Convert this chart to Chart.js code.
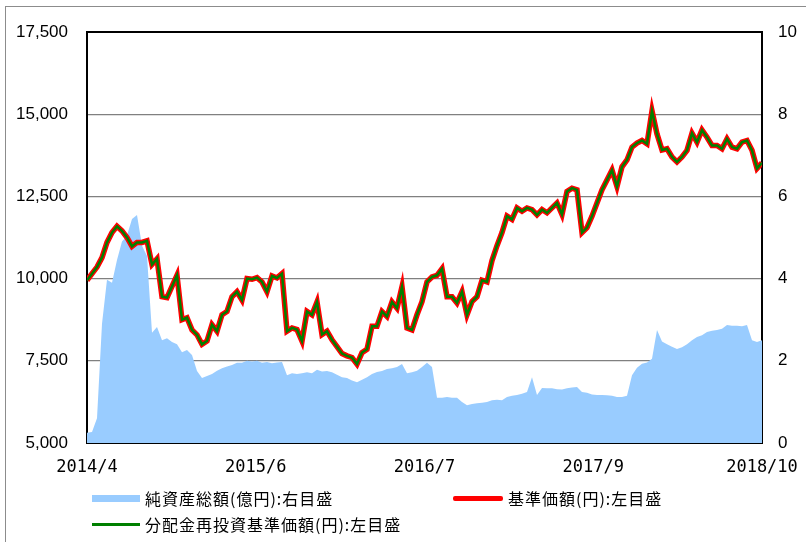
<!DOCTYPE html>
<html>
<head>
<meta charset="utf-8">
<script src="https://cdn.jsdelivr.net/npm/chart.js@4"></script>
<style>
  body { margin: 0; background: #fff; }
  #wrap { position: relative; width: 806px; height: 542px; overflow: hidden; }
  #frame { position: absolute; left: 5px; top: 6px; width: 900px; height: 900px;
           border-left: 1px solid #8c8c8c; border-top: 1px solid #8c8c8c; }
  canvas { position: absolute; left: 0; top: 0; }
  .lg { position: absolute; font: 16px "Noto Sans CJK JP", sans-serif; color: #000;
        line-height: 20px; white-space: nowrap; letter-spacing: 1px; }
  .sw { position: absolute; }
</style>
</head>
<body>
<div id="wrap">
  <div id="frame"></div>
  <canvas id="chart" width="806" height="542"></canvas>
  <div class="sw" style="left:92px;top:495px;width:48px;height:7px;background:#99ccff"></div>
  <div class="lg" id="lg0" style="left:145px;top:488px"></div>
  <div class="sw" style="left:453px;top:496px;width:50px;height:5px;background:#ff0000;border-radius:2px"></div>
  <div class="lg" id="lg1" style="left:508px;top:488px"></div>
  <div class="sw" style="left:92px;top:523px;width:48px;height:3px;background:#008000"></div>
  <div class="lg" id="lg2" style="left:145px;top:514px"></div>
</div>
<script>
const xTickLabels = ['2014/4', '2015/6', '2016/7', '2017/9', '2018/10']
const seriesNames = ['純資産総額(億円):右目盛', '基準価額(円):左目盛', '分配金再投資基準価額(円):左目盛']

// 基準価額 (yen), left axis
const navPrice = [
  9950, 10150, 10350, 10640, 11100, 11400, 11590, 11450, 11250, 10980,
  11100, 11100, 11150, 10430, 10600, 9450, 9420, 9760, 10100, 8750,
  8810, 8440, 8290, 8000, 8100, 8600, 8400, 8900, 9000, 9450,
  9600, 9350, 10000, 9980, 10030, 9900, 9600, 10080, 10020, 10150,
  8400, 8500, 8450, 8100, 9000, 8900, 9290, 8300, 8400, 8140,
  7930, 7720, 7650, 7600, 7400, 7750, 7850, 8550, 8550, 9000,
  8850, 9290, 9100, 9750, 8500, 8440, 8900, 9300, 9900, 10050,
  10100, 10300, 9450, 9450, 9260, 9600, 8900, 9300, 9450, 9950,
  9900, 10550, 11000, 11400, 11900, 11800, 12150, 12050, 12150, 12100,
  11940, 12100, 12000, 12150, 12300, 11950, 12650, 12750, 12700, 11400,
  11550, 11900, 12300, 12700, 13000, 13300, 12800, 13400, 13610, 14000,
  14120, 14200, 14100, 15100, 14400, 13910, 13950, 13700, 13550, 13700,
  13900, 14420, 14150, 14520, 14300, 14050, 14050, 13950, 14250, 14000,
  13950, 14150, 14200, 13900, 13350, 13520
]
// 分配金再投資基準価額: sits exactly on top of 基準価額 in the picture
const reinvestNav = navPrice.slice()

// 純資産総額 (億円), right axis
const netAssets = [
  0.25, 0.27, 0.6, 2.9, 3.97, 3.9, 4.45, 4.9, 5.05, 5.45,
  5.55, 4.8, 4.55, 2.68, 2.82, 2.5, 2.55, 2.46, 2.4, 2.21,
  2.26, 2.14, 1.75, 1.58, 1.63, 1.68, 1.76, 1.82, 1.86, 1.9,
  1.95, 1.95, 2.0, 1.98, 2.0, 1.95, 1.97, 1.94, 1.96, 1.97,
  1.65, 1.70, 1.68, 1.70, 1.72, 1.70, 1.78, 1.74, 1.75, 1.72,
  1.66, 1.6, 1.58, 1.52, 1.48, 1.54, 1.6, 1.68, 1.73, 1.75,
  1.8, 1.82, 1.85, 1.92, 1.7, 1.72, 1.76, 1.85, 1.95, 1.85,
  1.1, 1.1, 1.12, 1.1, 1.1, 1.0, 0.92, 0.95, 0.97, 0.98,
  1.0, 1.04, 1.05, 1.04, 1.12, 1.15, 1.17, 1.2, 1.24, 1.6,
  1.17, 1.34, 1.33, 1.33, 1.31, 1.3, 1.33, 1.35, 1.36, 1.24,
  1.22, 1.18, 1.17, 1.17, 1.16, 1.15, 1.12, 1.12, 1.15, 1.65,
  1.83, 1.93, 1.96, 2.05, 2.75, 2.47, 2.4, 2.34, 2.29, 2.33,
  2.4, 2.5, 2.58, 2.62, 2.70, 2.73, 2.75, 2.78, 2.87, 2.85,
  2.85, 2.84, 2.87, 2.5, 2.46, 2.5
]

const leftMin = 5000, leftMax = 17500, leftStep = 2500
const rightMin = 0, rightMax = 10, rightStep = 2

function build () {
  seriesNames.forEach((n, i) => { document.getElementById('lg' + i).textContent = n })
  const pts = arr => arr.map((v, i) => ({ x: i, y: v }))
  const lastIdx = navPrice.length - 1

  new Chart(document.getElementById('chart').getContext('2d'), {
    type: 'line',
    data: {
      datasets: [
        {
          label: seriesNames[2],
          data: pts(reinvestNav),
          yAxisID: 'y',
          borderColor: '#008000',
          borderWidth: 2.5,
          pointRadius: 0,
          fill: false,
          order: 0
        },
        {
          label: seriesNames[1],
          data: pts(navPrice),
          yAxisID: 'y',
          borderColor: '#ff0000',
          borderWidth: 5.5,
          pointRadius: 0,
          fill: false,
          order: 1
        },
        {
          label: seriesNames[0],
          data: pts(netAssets),
          yAxisID: 'y1',
          borderWidth: 0,
          borderColor: '#99ccff',
          backgroundColor: '#99ccff',
          pointRadius: 0,
          fill: 'origin',
          order: 2
        }
      ]
    },
    options: {
      responsive: false,
      animation: false,
      layout: { padding: { top: 32, left: 0, right: 0, bottom: 0 } },
      plugins: {
        legend: { display: false },
        tooltip: { enabled: false }
      },
      scales: {
        x: {
          type: 'linear',
          min: 0,
          max: lastIdx,
          afterFit: s => {
            s.height = 99
            s.paddingLeft = 0
            s.paddingRight = 0
          },
          afterBuildTicks: s => {
            s.ticks = xTickLabels.map((_, k) => ({ value: k * lastIdx / (xTickLabels.length - 1) }))
          },
          grid: {
            drawOnChartArea: false,
            drawTicks: true,
            tickLength: -6,
            color: '#000',
            lineWidth: 1.5
          },
          border: { display: true, color: '#000', width: 2 },
          ticks: {
            autoSkip: false,
            maxRotation: 0,
            padding: 20,
            color: '#000',
            font: { family: 'DejaVu Sans Mono', size: 17 },
            callback: (value, index) => xTickLabels[index]
          }
        },
        y: {
          position: 'left',
          min: leftMin,
          max: leftMax,
          afterFit: s => { s.width = 87 },
          grid: {
            drawTicks: false,
            color: c => (c.tick && c.tick.value === leftMax) ? '#000' : '#808080',
            lineWidth: c => (c.tick && c.tick.value === leftMax) ? 2 : 1.2
          },
          border: { display: true, color: '#000', width: 2 },
          ticks: {
            stepSize: leftStep,
            padding: 19,
            color: '#000',
            font: { family: 'Liberation Sans', size: 17 },
            callback: v => v.toLocaleString('en-US')
          }
        },
        y1: {
          position: 'right',
          min: rightMin,
          max: rightMax,
          afterFit: s => { s.width = 44 },
          grid: { display: false, drawTicks: false },
          border: { display: true, color: '#000', width: 2 },
          ticks: {
            stepSize: rightStep,
            padding: 16,
            color: '#000',
            font: { family: 'Liberation Sans', size: 17 }
          }
        }
      }
    }
  })
}

build()
</script>
</body>
</html>
